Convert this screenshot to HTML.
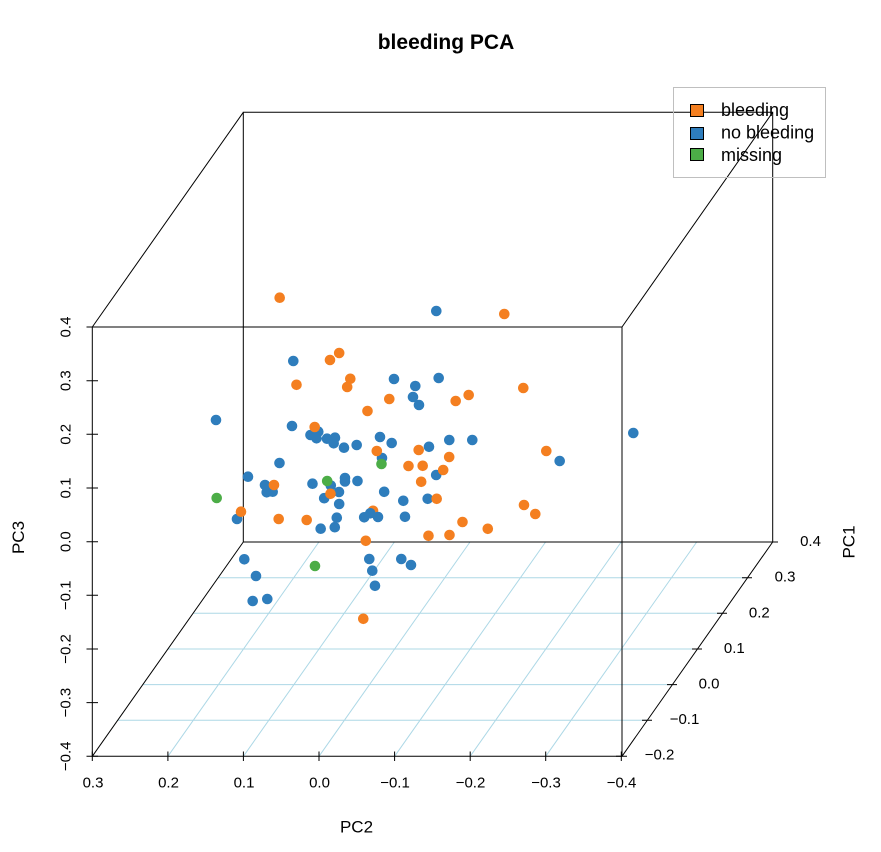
<!DOCTYPE html>
<html><head><meta charset="utf-8"><style>
html,body{margin:0;padding:0;background:#fff;}
svg{display:block;}
text{font-family:"Liberation Sans",Arial,sans-serif;fill:#000;}
</style></head><body>
<svg width="881" height="852" viewBox="0 0 881 852" xmlns="http://www.w3.org/2000/svg">
<rect width="881" height="852" fill="#fff"/>
<path fill="none" stroke="#add8e6" stroke-width="1" d="M117.9 720.3H647.1M143 684.6H672.2M168.2 649H697.3M193.2 613.3H722.4M218.3 577.7H747.5M167.9 756.3L318.9 542M243.4 756.3L394.4 542M319 756.3L470 542M394.6 756.3L545.6 542M470.2 756.3L621.2 542M545.7 756.3L696.7 542"/>
<path fill="none" stroke="#000" stroke-width="1" d="M243.3 112.3H772.7V542H243.3ZM92.3 327L243.3 112.3M622 327L772.7 112.3M92.3 756.3L243.3 542M622 756.3L772.7 542M92.3 327H622V756.3H92.3Z"/>
<path fill="none" stroke="#000" stroke-width="1" d="M86.5 327H98M86.5 380.7H98M86.5 434.3H98M86.5 488H98M86.5 541.7H98M86.5 595.3H98M86.5 649H98M86.5 702.6H98M86.5 756.3H98M92.3 751.5V761M167.9 751.5V761M243.4 751.5V761M319 751.5V761M394.6 751.5V761M470.2 751.5V761M545.7 751.5V761M621.3 751.5V761M616 756.3H627M642 720.3H652M667 684.6H677M692 649H702M717 613.3H727M742 577.7H752M767 542H778"/>
<g font-size="15" text-anchor="middle" dominant-baseline="central">
<text x="66" y="327" transform="rotate(-90 66 327)">0.4</text>
<text x="66" y="380.7" transform="rotate(-90 66 380.7)">0.3</text>
<text x="66" y="434.3" transform="rotate(-90 66 434.3)">0.2</text>
<text x="66" y="488" transform="rotate(-90 66 488)">0.1</text>
<text x="66" y="541.7" transform="rotate(-90 66 541.7)">0.0</text>
<text x="66" y="595.3" transform="rotate(-90 66 595.3)">−0.1</text>
<text x="66" y="649" transform="rotate(-90 66 649)">−0.2</text>
<text x="66" y="702.6" transform="rotate(-90 66 702.6)">−0.3</text>
<text x="66" y="756.3" transform="rotate(-90 66 756.3)">−0.4</text>
<text x="93" y="783">0.3</text>
<text x="168.5" y="783">0.2</text>
<text x="244" y="783">0.1</text>
<text x="319.5" y="783">0.0</text>
<text x="395" y="783">−0.1</text>
<text x="470.5" y="783">−0.2</text>
<text x="546" y="783">−0.3</text>
<text x="621.5" y="783">−0.4</text>
<text x="659.5" y="755">−0.2</text>
<text x="684.5" y="719.5">−0.1</text>
<text x="709" y="684">0.0</text>
<text x="734.3" y="648.5">0.1</text>
<text x="759.3" y="612.8">0.2</text>
<text x="785" y="577">0.3</text>
<text x="810.5" y="541.5">0.4</text>
</g>
<g font-size="17" text-anchor="middle" dominant-baseline="central">
<text x="356.5" y="827">PC2</text>
<text x="18.5" y="537.5" transform="rotate(-90 18.5 537.5)">PC3</text>
<text x="849" y="542" transform="rotate(-90 849 542)">PC1</text>
</g>
<text x="446" y="49" font-size="21" font-weight="bold" text-anchor="middle">bleeding PCA</text>
<g fill="none" stroke-width="10.6" stroke-linecap="round">
<path stroke="#f47f20" d="M373 510.8h0"/>
<path stroke="#2e7dbc" d="M436.3 311h0M293.3 361h0M394 379h0M438.7 378h0M415.3 386h0M413 397h0M419 405h0M216 420h0M292 426h0M310.5 435h0M318.3 431.7h0M316.5 438.3h0M327 438.7h0M335 437.7h0M333.7 443.3h0M344 447.7h0M356.7 445h0M380 437h0M391.7 443h0M382 458h0M449.3 440h0M472.3 440h0M429 446.8h0M436.2 475h0M633.3 433h0M559.7 461h0M279.5 463h0M248 476.7h0M265 485h0M266.7 492.3h0M272.7 491.7h0M237 519h0M312.5 483.7h0M330.8 485.5h0M339 492h0M324.2 498.2h0M339.2 504h0M345 478h0M345 481.5h0M357.5 481h0M384.2 491.8h0M403.3 500.8h0M427.7 498.8h0M405 516.8h0M336.8 517.7h0M334.8 527.2h0M320.7 528.7h0M364.2 517.3h0M370.3 513.3h0M378 517h0M244.3 559.3h0M256 576h0M252.7 601h0M267.3 599h0M369.3 559h0M372.3 570.7h0M375 585.8h0M401.3 559h0M411 565h0"/>
<path stroke="#f47f20" d="M279.7 297.7h0M504.3 314h0M330 360h0M339.2 353h0M296.5 384.8h0M350.3 378.8h0M347.2 387h0M367.5 411h0M389.3 399h0M455.7 401h0M468.7 395h0M523.3 388h0M314.7 427h0M376.8 451h0M418.7 450h0M449.2 457h0M546.3 451h0M408.5 466h0M422.7 465.8h0M443.2 470h0M421.2 481.8h0M274 485h0M241 511.7h0M330.5 493.8h0M436.7 498.8h0M524 505h0M535.3 514h0M278.7 519h0M306.7 520h0M462.5 522h0M487.8 528.8h0M428.5 535.8h0M449.5 535h0M365.8 540.8h0M363.3 618.8h0"/>
<path stroke="#4cad47" d="M381.5 464h0M327.2 481h0M216.7 498h0M315 566h0"/>
</g>
<rect x="673.5" y="87.5" width="152" height="90" fill="none" stroke="#bfbfbf" stroke-width="1"/>
<rect x="690.5" y="104.5" width="13" height="12" fill="#f47f20" stroke="#000" stroke-width="1"/>
<rect x="690.5" y="127.5" width="13" height="12" fill="#2e7dbc" stroke="#000" stroke-width="1"/>
<rect x="690.5" y="148.5" width="13" height="12" fill="#4cad47" stroke="#000" stroke-width="1"/>
<g font-size="18" dominant-baseline="central">
<text x="721" y="110">bleeding</text>
<text x="721" y="132.5">no bleeding</text>
<text x="721" y="155">missing</text>
</g>
</svg>
</body></html>
